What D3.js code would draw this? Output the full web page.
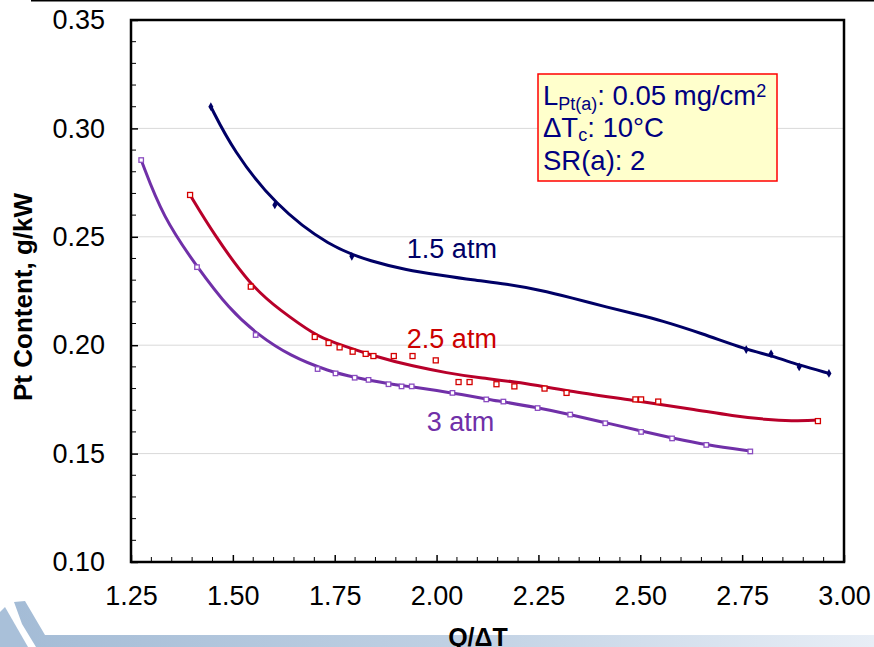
<!DOCTYPE html>
<html><head><meta charset="utf-8">
<script src="https://cdn.jsdelivr.net/npm/d3@7"></script>
<style>body{margin:0;background:#fff;}svg{display:block;font-family:"Liberation Sans",Arial,sans-serif;}</style>
</head><body>
<svg id="c" width="874" height="647"></svg>
<script>
// ---- data ----
const xTicks = [1.25,1.50,1.75,2.00,2.25,2.50,2.75,3.00];
const yTicks = [0.10,0.15,0.20,0.25,0.30,0.35];
const seriesNames = ["1.5 atm","2.5 atm","3 atm"];

const fit15 = [[1.446,.310],[1.500,.290],[1.603,.2647],[1.738,.2453],[1.843,.2384],[1.926,.2347],[2.007,.2324],[2.088,.2301],[2.172,.2282],[2.252,.2255],[2.333,.2218],[2.417,.2176],[2.498,.2139],[2.547,.2116],[2.650,.2055],[2.760,.198],[2.821,.1952],[2.890,.1908],[2.963,.187]];
const pts15 = [[1.446,.310],[1.603,.2647],[1.792,.241],[2.760,.198],[2.821,.196],[2.890,.190],[2.963,.187]];

const fit25 = [[1.395,.2693],[1.451,.2518],[1.544,.2273],[1.615,.2162],[1.706,.2042],[1.738,.2019],[1.860,.1941],[1.941,.1904],[2.025,.1872],[2.105,.1849],[2.203,.1830],[2.319,.1789],[2.480,.1747],[2.645,.1700],[2.725,.1675],[2.809,.1657],[2.870,.1650],[2.936,.1655]];
const pts25 = [[1.395,.2693],[1.544,.227],[1.701,.2038],[1.735,.201],[1.762,.199],[1.794,.197],[1.826,.196],[1.845,.195],[1.895,.195],[1.941,.195],[1.998,.193],[2.054,.183],[2.081,.183],[2.147,.182],[2.191,.181],[2.265,.180],[2.319,.178],[2.488,.175],[2.502,.175],[2.544,.174],[2.936,.165]];

const fit3 = [[1.275,.2854],[1.328,.2591],[1.412,.2361],[1.493,.2162],[1.559,.2052],[1.640,.1950],[1.738,.1878],[1.799,.1852],[1.882,.1822],[1.939,.1808],[2.039,.1780],[2.122,.1752],[2.248,.1712],[2.328,.1680],[2.414,.1643],[2.502,.1604],[2.578,.1572],[2.662,.1540],[2.770,.1512]];
const pts3 = [[1.275,.2854],[1.412,.236],[1.556,.2047],[1.708,.189],[1.752,.187],[1.799,.185],[1.833,.184],[1.882,.182],[1.914,.181],[1.939,.181],[2.039,.178],[2.122,.175],[2.164,.174],[2.248,.171],[2.328,.168],[2.414,.164],[2.502,.160],[2.578,.157],[2.662,.154],[2.770,.151]];

const labelAt = [[1.927,0.2402],[1.927,0.1987],[1.976,0.1604]];

// ---- layout ----
const svg = d3.select("#c");
const L=131, R=844, T=20, B=562;
const x = d3.scaleLinear().domain([1.25,3.00]).range([L,R]);
const y = d3.scaleLinear().domain([0.10,0.35]).range([B,T]);
const FONT = "'Liberation Sans',Arial,sans-serif";

// background decoration
const defs = svg.append("defs");
const g1 = defs.append("linearGradient").attr("id","band").attr("x1","0").attr("x2","1");
g1.append("stop").attr("offset","0").attr("stop-color","#a4bcd6");
g1.append("stop").attr("offset","0.5").attr("stop-color","#bfd0e3");
g1.append("stop").attr("offset","1").attr("stop-color","#e8eef6");
svg.append("polygon").attr("points","14,602 25,601 45,635 874,635 874,647 36,647 22,624").attr("fill","url(#band)");
svg.append("polygon").attr("points","0,612 5,607 28,647 0,647").attr("fill","#a9c0d9");
svg.append("line").attr("x1",31).attr("x2",874).attr("y1",0.75).attr("y2",0.75).attr("stroke","#000").attr("stroke-width",1.5);

// gridlines
svg.append("g").selectAll("line").data(yTicks.filter(v=>v>0.10&&v<0.35)).join("line")
  .attr("x1",L).attr("x2",R).attr("y1",d=>y(d)).attr("y2",d=>y(d))
  .attr("stroke","#d9d9d9").attr("stroke-width",1);

// minor ticks
const yMinor = d3.range(0.10,0.3501,0.01).filter(v=>Math.abs(Math.round(v*20)-v*20)>1e-6);
const xMinor = d3.range(1.25,3.0001,0.05).filter(v=>Math.abs(Math.round(v*4)-v*4)>1e-6);
svg.append("g").selectAll("line").data(yMinor).join("line")
  .attr("x1",L).attr("x2",L+5).attr("y1",d=>y(d)).attr("y2",d=>y(d)).attr("stroke","#000").attr("stroke-width",1);
svg.append("g").selectAll("line").data(xMinor).join("line")
  .attr("y1",B).attr("y2",B-5).attr("x1",d=>x(d)).attr("x2",d=>x(d)).attr("stroke","#000").attr("stroke-width",1);

// axes
const ya = svg.append("g").attr("transform",`translate(${L},0)`)
  .call(d3.axisLeft(y).tickValues(yTicks).tickFormat(d3.format(".2f")).tickSizeInner(-7).tickSizeOuter(0).tickPadding(26));
const xa = svg.append("g").attr("transform",`translate(0,${B})`)
  .call(d3.axisBottom(x).tickValues(xTicks).tickFormat(d3.format(".2f")).tickSizeInner(-7).tickSizeOuter(0).tickPadding(24));
[ya,xa].forEach(a=>{
  a.select(".domain").remove();
  a.selectAll(".tick line").attr("stroke","#000").attr("stroke-width",1.5);
  a.selectAll(".tick text").attr("fill","#000").style("font-size","27px").style("font-family",FONT);
});

// frame
svg.append("rect").attr("x",L).attr("y",T).attr("width",R-L).attr("height",B-T)
  .attr("fill","none").attr("stroke","#000").attr("stroke-width",2.5);

// lines
const line = d3.line().x(d=>x(d[0])).y(d=>y(d[1])).curve(d3.curveBasis);
const series = [
  {name:seriesNames[0], fit:fit15, pts:pts15, color:"#000066", mark:"diamond", lab:"#000066"},
  {name:seriesNames[1], fit:fit25, pts:pts25, color:"#b8002a", mark:"square", mcol:"#d40000", sz:5, lab:"#cc0000"},
  {name:seriesNames[2], fit:fit3, pts:pts3, color:"#7030a8", mark:"square", mcol:"#8a4cc0", sz:4.5, lab:"#7030a8"}
];
series.forEach(s=>{
  svg.append("path").attr("d",line(s.fit)).attr("fill","none").attr("stroke",s.color).attr("stroke-width",3);
});
series.forEach(s=>{
  const g = svg.append("g");
  if(s.mark==="diamond"){
    g.selectAll("path").data(s.pts).join("path")
      .attr("d",d3.symbol(d3.symbolDiamond,22)())
      .attr("transform",d=>`translate(${x(d[0])},${y(d[1])})`)
      .attr("fill",s.color);
  } else {
    g.selectAll("rect").data(s.pts).join("rect")
      .attr("x",d=>x(d[0])-s.sz/2).attr("y",d=>y(d[1])-s.sz/2).attr("width",s.sz).attr("height",s.sz)
      .attr("fill","#fff").attr("stroke",s.mcol).attr("stroke-width",1.3);
  }
});

// series labels
series.forEach((s,i)=>{
  svg.append("text").attr("x",x(labelAt[i][0])).attr("y",y(labelAt[i][1]))
    .attr("fill",s.lab).style("font-size","27px").style("font-family",FONT).text(s.name);
});

// note box
const bx=538, by=74, bw=239, bh=107;
svg.append("rect").attr("x",bx).attr("y",by).attr("width",bw).attr("height",bh)
  .attr("fill","#ffffcc").attr("stroke","#ff0000").attr("stroke-width",1.5);
const tc="#000080";
const t1 = svg.append("text").attr("x",543).attr("y",105).attr("fill",tc).style("font-size","27.5px");
t1.append("tspan").text("L");
t1.append("tspan").attr("dy",5).style("font-size","18px").text("Pt(a)");
t1.append("tspan").attr("dy",-5).text(": 0.05 mg/cm");
t1.append("tspan").attr("dy",-8).style("font-size","18px").text("2");
const t2 = svg.append("text").attr("x",543).attr("y",137).attr("fill",tc).style("font-size","27.5px");
t2.append("tspan").text("\u0394T");
t2.append("tspan").attr("dy",4).style("font-size","18px").text("c");
t2.append("tspan").attr("dy",-4).text(": 10\u00b0C");
svg.append("text").attr("x",543).attr("y",170).attr("fill",tc).style("font-size","27.5px").text("SR(a): 2");

// axis titles
svg.append("text").attr("transform","translate(32,297) rotate(-90)").attr("text-anchor","middle")
  .style("font-size","26px").style("font-weight","bold").attr("fill","#000").text("Pt Content, g/kW");
svg.append("text").attr("x",478).attr("y",646).attr("text-anchor","middle")
  .style("font-size","25px").style("font-weight","bold").attr("fill","#000").text("Q/\u0394T");
</script>
</body></html>
